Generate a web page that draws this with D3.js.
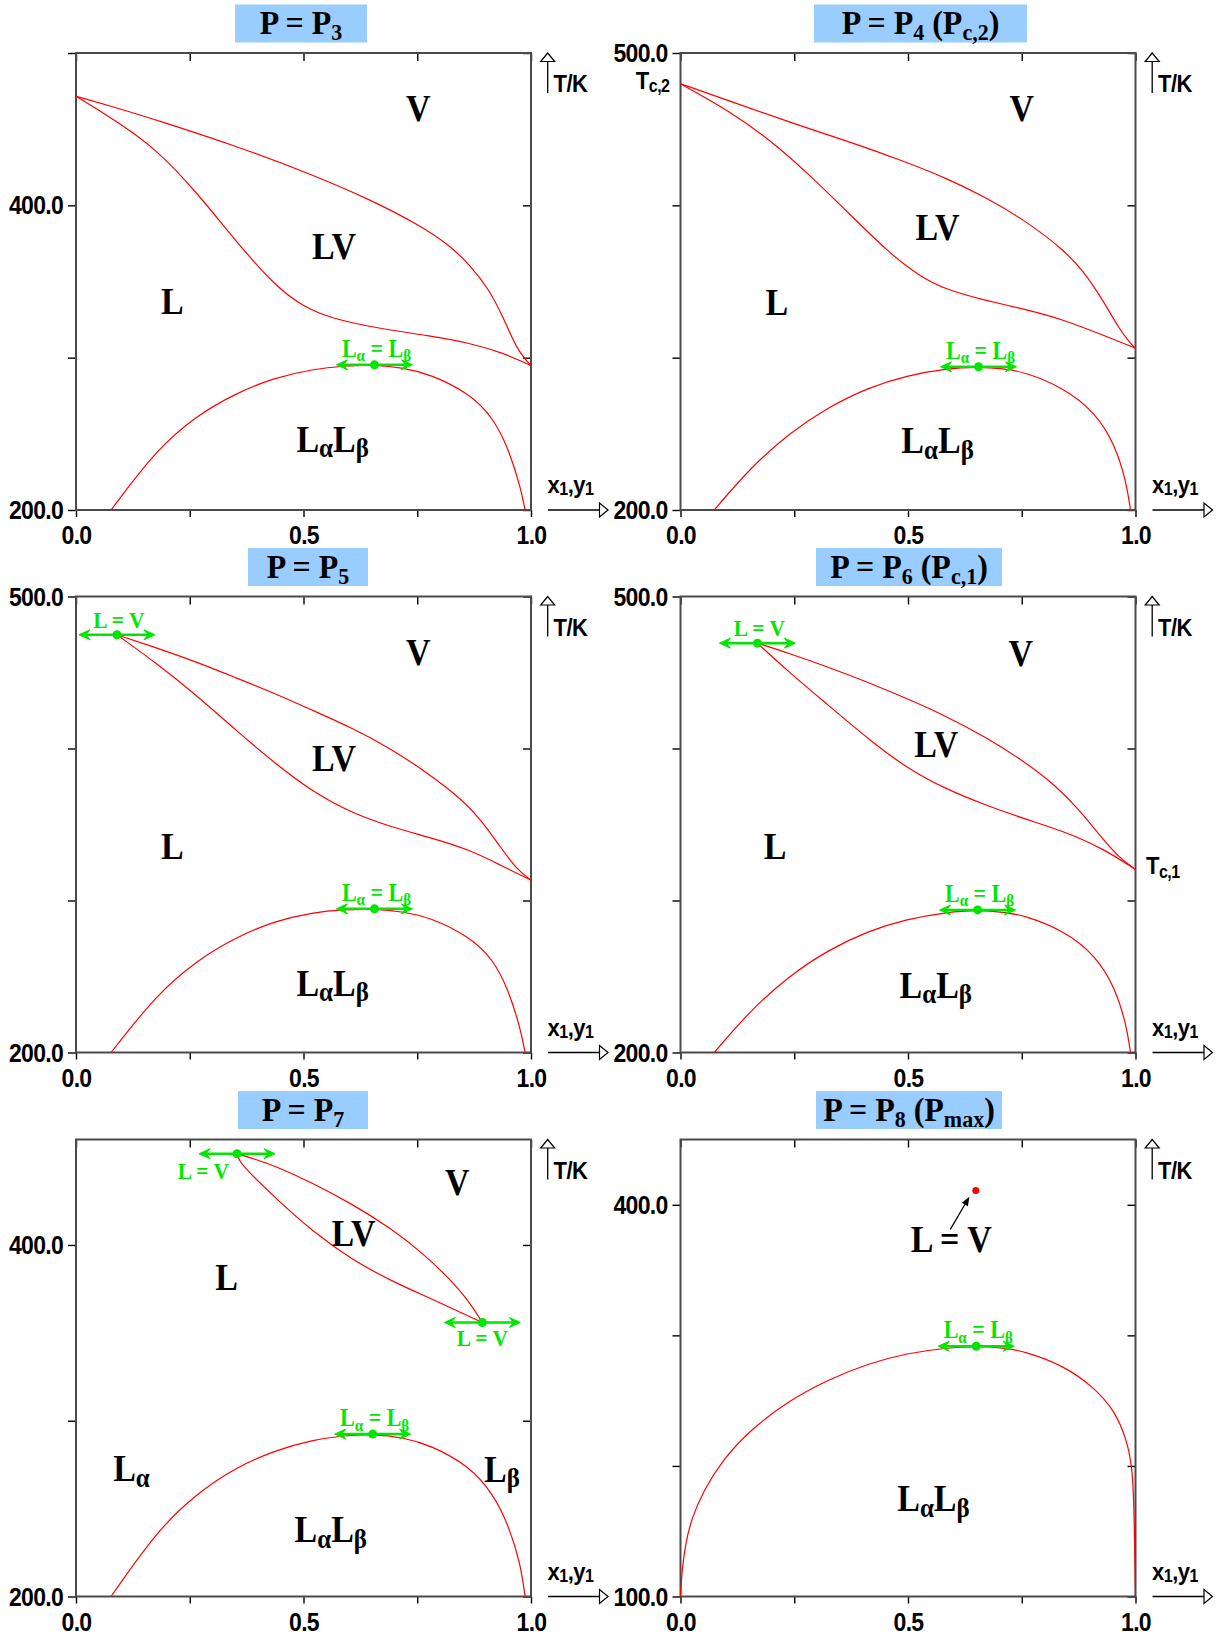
<!DOCTYPE html>
<html><head><meta charset="utf-8">
<script src="https://cdn.jsdelivr.net/npm/d3@7"></script>
<style>body{margin:0;background:#fff} text{white-space:pre}</style>
</head><body>
<svg id="c" width="1228" height="1636" xmlns="http://www.w3.org/2000/svg"></svg>
<script>
// ================= DATA =================
const xTickValues = [0, 0.25, 0.5, 0.75, 1];
const xTickLabels = [[0, "0.0"], [0.5, "0.5"], [1, "1.0"]];

const panelTitles = [
  [["P = P", 0], ["3", 1]],
  [["P = P", 0], ["4", 1], [" (P", 0], ["c,2", 1], [")", 0]],
  [["P = P", 0], ["5", 1]],
  [["P = P", 0], ["6", 1], [" (P", 0], ["c,1", 1], [")", 0]],
  [["P = P", 0], ["7", 1]],
  [["P = P", 0], ["8", 1], [" (P", 0], ["max", 1], [")", 0]]
];

const tDomains = [[200, 500], [200, 500], [200, 500], [200, 500], [200, 460], [100, 450]];
const tTickValues = [
  [200, 300, 400, 500], [200, 300, 400, 500], [200, 300, 400, 500],
  [200, 300, 400, 500], [200, 300, 400], [100, 200, 300, 400]
];
const tTickLabels = [
  [[200, "200.0"], [400, "400.0"]],
  [[200, "200.0"], [500, "500.0"]],
  [[200, "200.0"], [500, "500.0"]],
  [[200, "200.0"], [500, "500.0"]],
  [[200, "200.0"], [400, "400.0"]],
  [[100, "100.0"], [400, "400.0"]]
];

// vapour (dew) curves
const p3Dew = [[0,471.6],[0.09,464],[0.178,455.9],[0.35,439.2],[0.521,420],[0.65,403.3],[0.753,387.3],[0.822,373.6],[0.865,361],[0.908,345],[0.942,324.5],[0.968,306.2],[0.99,298],[1,294.8]];
const p4Dew = [[0,479.8],[0.110,468.3],[0.239,454.6],[0.369,442],[0.498,428.2],[0.584,417.9],[0.670,405.3],[0.756,390.4],[0.842,370.9],[0.885,357.1],[0.929,337.6],[0.963,319.3],[0.99,309],[1,306.2]];
const p5Dew = [[0.090,474.8],[0.178,466.1],[0.264,457],[0.350,446.7],[0.436,436.4],[0.521,425],[0.607,413.5],[0.693,399.8],[0.779,382.6],[0.848,366.6],[0.891,352.9],[0.934,334.6],[0.968,320.8],[1,313.3]];
const p6Dew = [[0.169,469.3],[0.239,462.6],[0.326,453.4],[0.412,443.6],[0.498,432.8],[0.584,421.3],[0.670,407.6],[0.756,391.5],[0.825,375.5],[0.877,359.4],[0.920,343.3],[0.963,328.4],[1,320.4]];
const p7Dew = [[0.354,451.9],[0.395,448.7],[0.436,445.1],[0.521,435.2],[0.607,423.3],[0.693,409.3],[0.762,395.4],[0.822,380.5],[0.865,367.6],[0.893,355.9]];

// liquid (bubble) curves
const p3Bubble = [[0,471.6],[0.092,454.7],[0.178,436.5],[0.264,409],[0.35,377],[0.436,347.4],[0.504,332.5],[0.564,325.7],[0.65,320],[0.779,314.2],[0.865,309.7],[0.942,302.8],[1,294.8]];
const p4Bubble = [[0,479.8],[0.110,461.5],[0.196,443.1],[0.283,420.2],[0.369,395],[0.455,369.7],[0.524,353.7],[0.584,344.5],[0.670,337.6],[0.756,331.9],[0.842,325],[0.929,314.7],[1,306.2]];
const p5Bubble = [[0.090,474.8],[0.178,455.8],[0.264,435.2],[0.350,412.4],[0.436,390.6],[0.521,371.2],[0.607,357.4],[0.693,348.3],[0.779,341.4],[0.865,333.4],[0.934,323.1],[1,313.3]];
const p6Bubble = [[0.169,469.3],[0.239,450],[0.326,428.2],[0.412,406.4],[0.498,386.9],[0.584,373.2],[0.670,362.8],[0.756,353.7],[0.842,345.6],[0.929,334.2],[1,320.4]];
const p7Bubble = [[0.354,451.9],[0.358,448.5],[0.372,443.5],[0.436,427.2],[0.521,407.4],[0.607,391.5],[0.693,379.5],[0.779,369.6],[0.893,355.9]];

// liquid-liquid curves
const p3LLE = [[0.077,200],[0.178,240],[0.264,261.7],[0.35,276.5],[0.436,286.8],[0.521,292.5],[0.59,294.6],[0.656,295.3],[0.72,293.4],[0.779,289.1],[0.865,276.5],[0.917,260.5],[0.951,240],[0.977,214.9],[0.987,200]];
const p4LLE = [[0.074,200],[0.153,227.5],[0.239,250.5],[0.326,267.7],[0.412,280.3],[0.498,288.3],[0.584,292.9],[0.655,294],[0.71,292.8],[0.756,290.6],[0.842,280.3],[0.911,264.2],[0.954,243.6],[0.980,218.3],[0.989,200]];
const p5LLE = [[0.077,200],[0.178,238.4],[0.264,260.2],[0.350,275.5],[0.436,286.5],[0.521,292.2],[0.59,294],[0.656,294.5],[0.72,292.6],[0.779,288.8],[0.865,276.2],[0.917,261.3],[0.951,240.7],[0.977,215.6],[0.987,200]];
const p6LLE = [[0.074,200],[0.153,227.5],[0.239,250.5],[0.326,267.7],[0.412,279.9],[0.498,287.9],[0.584,292.2],[0.653,293.8],[0.71,292.4],[0.756,290.1],[0.842,280.3],[0.911,264.2],[0.954,243.6],[0.980,218.3],[0.989,200]];
const p7LLE = [[0.077,200],[0.178,237.4],[0.264,258.3],[0.350,273.2],[0.436,283.1],[0.521,289.1],[0.59,291.6],[0.652,292.4],[0.72,290.4],[0.779,286.1],[0.865,274.2],[0.917,258.3],[0.951,240.4],[0.977,218.5],[0.987,200]];
const p8LLE = [[0,100],[0.003,119.3],[0.011,140.6],[0.024,159.4],[0.050,180.7],[0.093,204.8],[0.153,227.5],[0.239,250.3],[0.326,266.3],[0.412,278.3],[0.498,286.4],[0.584,290.4],[0.650,291.7],[0.71,290.5],[0.756,287.7],[0.842,277],[0.911,259.6],[0.954,242.2],[0.980,220.9],[0.993,199.5],[0.997,167.4],[1,100]];

// critical points
const llCritical = [[0.656,295.3],[0.655,294],[0.656,294.5],[0.653,293.8],[0.652,292.4],[0.650,291.7]];
const lvCritical = [[], [], [[0.090,474.8,"above"]], [[0.169,469.3,"above"]], [[0.354,451.9,"belowLeft"],[0.893,355.9,"below"]], []];

// region labels [segments, x, T]
const LaLb = [["L",0],["α",1],["L",0],["β",1]];
const regionLabels = [
  [[[["V",0]],0.752,462.7],[[["LV",0]],0.567,372],[[["L",0]],0.212,336],[LaLb,0.564,245.7]],
  [[[["V",0]],0.750,462.6],[[["LV",0]],0.565,384.6],[[["L",0]],0.212,335.3],[LaLb,0.565,244.7]],
  [[[["V",0]],0.752,462.7],[[["LV",0]],0.567,392.9],[[["L",0]],0.212,335],[LaLb,0.564,244.9]],
  [[[["V",0]],0.748,462],[[["LV",0]],0.562,401.8],[[["L",0]],0.208,334.6],[LaLb,0.561,243.6]],
  [[[["V",0]],0.838,435.2],[[["LV",0]],0.610,405.8],[[["L",0]],0.331,380.9],[[["L",0],["α",1]],0.122,272.2],[[["L",0],["β",1]],0.936,271.8],[LaLb,0.560,237.4]],
  [[[["L = V",0]],0.595,372.7],[LaLb,0.556,174.1]]
];

// special annotations
const tc2Point = [0, 479.8];      // panel P4
const tc1Point = [1, 320.4];      // panel P6
const p8Point = [0.649, 411];     // L = V point at Pmax
const p8ArrowFrom = [0.593, 381.2];
const p8ArrowTo = [0.635, 406.2];

// ================= LAYOUT / STYLE =================
const panels = [
  {dew: p3Dew, bub: p3Bubble, lle: p3LLE},
  {dew: p4Dew, bub: p4Bubble, lle: p4LLE},
  {dew: p5Dew, bub: p5Bubble, lle: p5LLE},
  {dew: p6Dew, bub: p6Bubble, lle: p6LLE},
  {dew: p7Dew, bub: p7Bubble, lle: p7LLE},
  {dew: null, bub: null, lle: p8LLE}
];
const cols = [[76, 531], [680.5, 1135.5]];
const rows = [[53, 510], [596.5, 1052.5], [1139.5, 1596.5]];
const titleBoxes = [[301,132],[920.5,213],[308,120],[909,186],[303,130],[909,186]];

const RED = "#ff0000", GREEN = "#00e600", AXIS = "#4a4a4a";
const SANS = "'Liberation Sans', Arial, Helvetica, sans-serif";
const SERIF = "'Liberation Serif', 'Times New Roman', Times, serif";
const STRETCH = 1.1; // glyphs in the original are slightly taller

const svg = d3.select("#c");
svg.append("rect").attr("width",1228).attr("height",1636).attr("fill","#fff");

function segText(g, segs, opt) {
  const t = g.append("text")
    .attr("font-family", opt.family).attr("font-weight", "bold")
    .attr("font-size", opt.size).attr("fill", opt.fill || "#000")
    .attr("text-anchor", opt.anchor || "middle")
    .attr("transform", `translate(${opt.x},${opt.y}) scale(1,${opt.stretch || STRETCH})`);
  if (opt.ls) t.attr("letter-spacing", opt.ls);
  let shifted = false;
  segs.forEach(([s, sub]) => {
    const ts = t.append("tspan").text(s);
    if (sub) {
      ts.attr("font-size", opt.subSize);
      if (!shifted) { ts.attr("dy", opt.subDy); shifted = true; }
    } else if (shifted) { ts.attr("dy", -opt.subDy); shifted = false; }
  });
  return t;
}

const line = d3.line().curve(d3.curveBasis);

panels.forEach((p, i) => {
  const [x0, x1] = cols[i % 2];
  const [y0, y1] = rows[Math.floor(i / 2)];
  const x = d3.scaleLinear().domain([0, 1]).range([x0, x1]);
  const y = d3.scaleLinear().domain(tDomains[i]).range([y1, y0]);
  const g = svg.append("g");

  // title box
  const [bcx, bw] = titleBoxes[i];
  const bTop = y0 - 48.5;
  g.append("rect").attr("x", bcx - bw / 2).attr("y", bTop).attr("width", bw).attr("height", 38)
    .attr("fill", "#99ccff");
  segText(g, panelTitles[i], {family: SERIF, size: 32, subSize: 22, subDy: 6, x: bcx, y: bTop + 29.5, stretch: 1.02});

  // axes
  const tLab = new Map(tTickLabels[i]);
  const xLab = new Map(xTickLabels);
  const styleAxis = sel => {
    sel.select(".domain").remove();
    sel.selectAll(".tick line").attr("stroke", "#000").attr("stroke-width", 1.4);
    sel.selectAll("text").attr("font-family", SANS).attr("font-weight", "bold")
      .attr("font-size", 23).attr("fill", "#000").attr("letter-spacing", "-0.7");
  };
  const stretchLabels = (sel, dyPx) => {
    sel.selectAll(".tick text").each(function () {
      const t = d3.select(this);
      const tx = +t.attr("x") || 0, ty = +t.attr("y") || 0;
      t.attr("x", null).attr("y", null).attr("dy", null)
        .attr("transform", `translate(${tx},${ty + dyPx}) scale(1,${STRETCH})`);
    });
  };
  g.append("g").attr("transform", `translate(${x0},0)`)
    .call(d3.axisLeft(y).tickValues(tTickValues[i]).tickSize(8).tickPadding(5)
      .tickFormat(v => tLab.get(v) || "")).call(styleAxis).call(stretchLabels, 8.5);
  // right inward ticks
  g.append("g").attr("transform", `translate(${x1},0)`)
    .call(d3.axisLeft(y).tickValues(tTickValues[i]).tickSize(8).tickFormat("")).call(styleAxis);
  // top inward ticks
  g.append("g").attr("transform", `translate(0,${y0})`)
    .call(d3.axisBottom(x).tickValues(xTickValues).tickSize(8).tickFormat("")).call(styleAxis);
  // bottom outward ticks + labels
  g.append("g").attr("transform", `translate(0,${y1})`)
    .call(d3.axisBottom(x).tickValues(xTickValues).tickSize(7).tickPadding(11)
      .tickFormat(v => xLab.get(v) || "")).call(styleAxis).call(stretchLabels, 16);

  // frame
  g.append("rect").attr("x", x0).attr("y", y0).attr("width", x1 - x0).attr("height", y1 - y0)
    .attr("fill", "none").attr("stroke", AXIS).attr("stroke-width", 2);

  // T/K arrow
  const ax = x1 + 16.7;
  g.append("line").attr("x1", ax).attr("x2", ax).attr("y1", y0 + 8.5).attr("y2", y0 + 40)
    .attr("stroke", "#000").attr("stroke-width", 1.3);
  g.append("path").attr("d", `M${ax},${y0} L${ax - 7},${y0 + 8.5} L${ax + 7},${y0 + 8.5} Z`)
    .attr("fill", "#fff").attr("stroke", "#000").attr("stroke-width", 1.2);
  segText(g, [["T/K", 0]], {family: SANS, size: 22, x: x1 + 22.5, y: y0 + 39, anchor: "start", ls: "-0.5"});

  // x1,y1 arrow
  g.append("line").attr("x1", x1 + 17).attr("x2", x1 + 68.5).attr("y1", y1).attr("y2", y1)
    .attr("stroke", "#000").attr("stroke-width", 1.3);
  g.append("path").attr("d", `M${x1 + 77},${y1} L${x1 + 68.5},${y1 - 7} L${x1 + 68.5},${y1 + 7} Z`)
    .attr("fill", "#fff").attr("stroke", "#000").attr("stroke-width", 1.2);
  segText(g, [["x", 0], ["1", 1], [",y", 0], ["1", 1]],
    {family: SANS, size: 22, subSize: 16, subDy: 2, x: x1 + 16.5, y: y1 - 17, anchor: "start", ls: "-0.5"});

  // curves
  [p.dew, p.bub, p.lle].forEach(c => {
    if (!c) return;
    g.append("path").attr("d", line(c.map(d => [x(d[0]), y(d[1])])))
      .attr("fill", "none").attr("stroke", RED).attr("stroke-width", 1.2);
  });

  // region labels
  regionLabels[i].forEach(([segs, lx, lt]) => {
    segText(g, segs, {family: SERIF, size: 34, subSize: 25, subDy: 5, x: x(lx), y: y(lt) + 11.5, fill: "#000"});
  });

  // green markers
  const marker = (cx, cy) => {
    const hw = 38;
    g.append("line").attr("x1", cx - hw + 4).attr("x2", cx + hw - 4).attr("y1", cy).attr("y2", cy)
      .attr("stroke", GREEN).attr("stroke-width", 2.5);
    [-1, 1].forEach(s => {
      const tip = cx + s * hw;
      g.append("path")
        .attr("d", `M${tip},${cy} L${tip - s * 11},${cy - 5} L${tip - s * 7},${cy} L${tip - s * 11},${cy + 5} Z`)
        .attr("fill", GREEN).attr("stroke", GREEN).attr("stroke-width", 1);
    });
    g.append("circle").attr("cx", cx).attr("cy", cy).attr("r", 4.5).attr("fill", GREEN);
  };
  const [lcx, lct] = llCritical[i];
  marker(x(lcx), y(lct));
  segText(g, [["L", 0], ["α", 1], [" = L", 0], ["β", 1]],
    {family: SERIF, size: 22, subSize: 15, subDy: 4, x: x(lcx) + 2, y: y(lct) - 8, fill: GREEN});

  lvCritical[i].forEach(([vx, vt, pos]) => {
    const cx = x(vx), cy = y(vt);
    marker(cx, cy);
    let o;
    if (pos === "above") o = {x: cx + 2, y: cy - 7, anchor: "middle"};
    else if (pos === "below") o = {x: cx, y: cy + 24, anchor: "middle"};
    else o = {x: cx - 8, y: cy + 25, anchor: "end"};
    segText(g, [["L = V", 0]], {family: SERIF, size: 21.5, x: o.x, y: o.y, fill: GREEN, anchor: o.anchor});
  });

  // specials
  if (i === 1) {
    segText(g, [["T", 0], ["c,2", 1]], {family: SANS, size: 22, subSize: 16, subDy: 3,
      x: x(tc2Point[0]) - 11, y: y(tc2Point[1]) + 5, anchor: "end", ls: "-0.5"});
  }
  if (i === 3) {
    segText(g, [["T", 0], ["c,1", 1]], {family: SANS, size: 22, subSize: 16, subDy: 3,
      x: x(tc1Point[0]) + 10.5, y: y(tc1Point[1]) + 5, anchor: "start", ls: "-0.5"});
  }
  if (i === 5) {
    g.append("circle").attr("cx", x(p8Point[0])).attr("cy", y(p8Point[1])).attr("r", 3.5).attr("fill", RED);
    const fx = x(p8ArrowFrom[0]), fy = y(p8ArrowFrom[1]);
    const tx = x(p8ArrowTo[0]), ty = y(p8ArrowTo[1]);
    const ang = Math.atan2(ty - fy, tx - fx);
    const L = 9, Wd = 3.5;
    const bx = tx - L * Math.cos(ang), by = ty - L * Math.sin(ang);
    g.append("line").attr("x1", fx).attr("y1", fy).attr("x2", bx).attr("y2", by)
      .attr("stroke", "#000").attr("stroke-width", 1.3);
    g.append("path").attr("d",
      `M${tx},${ty} L${bx + Wd * Math.sin(ang)},${by - Wd * Math.cos(ang)} L${bx - Wd * Math.sin(ang)},${by + Wd * Math.cos(ang)} Z`)
      .attr("fill", "#000");
  }
});
</script>
</body></html>
